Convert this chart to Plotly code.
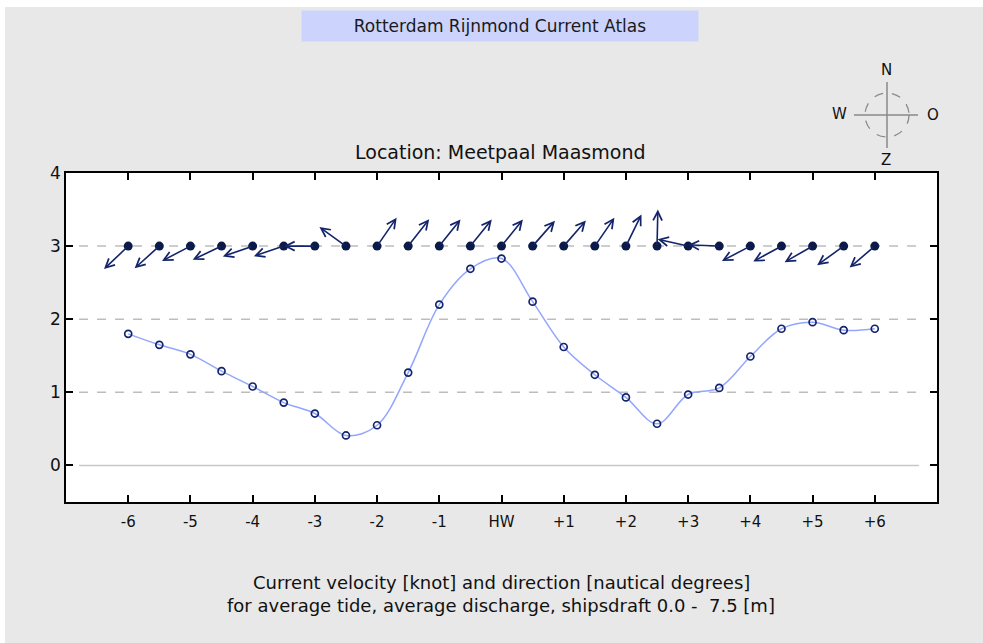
import math
import plotly.graph_objects as go

# ---- data ----
hours = [-6, -5.5, -5, -4.5, -4, -3.5, -3, -2.5, -2, -1.5, -1, -0.5, 0,
         0.5, 1, 1.5, 2, 2.5, 3, 3.5, 4, 4.5, 5, 5.5, 6]
speed_knots = [1.80, 1.65, 1.52, 1.29, 1.08, 0.86, 0.71, 0.41, 0.55, 1.27, 2.20, 2.69, 2.83,
               2.24, 1.62, 1.24, 0.93, 0.57, 0.97, 1.06, 1.49, 1.87, 1.96, 1.85, 1.87]
direction_deg = [231, 232.5, 246, 248, 253.5, 254, 270, 301.5, 39, 42.5, 43, 43.5, 43.5,
                 46, 45.5, 39, 30, 1.5, 281, 272, 246, 245, 244, 238.5, 234]
tick_vals = [-6, -5, -4, -3, -2, -1, 0, 1, 2, 3, 4, 5, 6]
tick_text = ['-6', '-5', '-4', '-3', '-2', '-1', 'HW', '+1', '+2', '+3', '+4', '+5', '+6']
y_ticks = [0, 1, 2, 3, 4]
arrow_base = 3
arrow_len = 0.5

FONT = "DejaVu Sans, Verdana, sans-serif"
NAVY = "#14246a"
DOT = "#0c1a48"
LINE_BLUE = "#93a6ff"
BG = "#e8e8e8"

W, H = 983, 643
L_PX, R_PX, T_PX, B_PX = 66, 937, 173, 502
PW, PH = R_PX - L_PX, B_PX - T_PX


def px(xp):
    return (xp - L_PX) / PW


def py(yp):
    return (B_PX - yp) / PH


fig = go.Figure()

# speed curve
fig.add_trace(go.Scatter(x=hours, y=speed_knots, mode="lines",
                         line=dict(color=LINE_BLUE, width=1.5, shape="spline", smoothing=1.0),
                         hoverinfo="skip", showlegend=False))
fig.add_trace(go.Scatter(x=hours, y=speed_knots, mode="markers",
                         marker=dict(symbol="circle-open", size=7, color=NAVY,
                                     line=dict(width=1.7, color=NAVY)),
                         showlegend=False))

annotations = []
# direction arrows
for h, d in zip(hours, direction_deg):
    r = math.radians(d)
    tx = h + arrow_len * math.sin(r)
    ty = arrow_base + arrow_len * math.cos(r)
    annotations.append(dict(x=tx, y=ty, ax=h, ay=arrow_base, xref="x", yref="y",
                            axref="x", ayref="y", showarrow=True, arrowhead=5,
                            arrowsize=1.1, arrowwidth=1.6, arrowcolor=NAVY, text=""))

# dots at arrow base
fig.add_trace(go.Scatter(x=hours, y=[arrow_base] * len(hours), mode="markers",
                         marker=dict(symbol="circle", size=9, color=DOT),
                         showlegend=False))

shapes = []
# white strips on the top and left edges
shapes.append(dict(type="rect", xref="paper", yref="paper", x0=px(0), x1=px(W),
                   y0=py(7), y1=py(0), fillcolor="white", line=dict(width=0), layer="below"))
shapes.append(dict(type="rect", xref="paper", yref="paper", x0=px(0), x1=px(5),
                   y0=py(H), y1=py(0), fillcolor="white", line=dict(width=0), layer="below"))
# grid lines
for g in [1, 2, 3]:
    shapes.append(dict(type="line", xref="x", yref="y", x0=-6.79, x1=6.68, y0=g, y1=g,
                       line=dict(color="#bdbdbd", width=1.5, dash="dash"), layer="below"))
shapes.append(dict(type="line", xref="x", yref="y", x0=-6.79, x1=6.71, y0=0, y1=0,
                   line=dict(color="#c8c8c8", width=1.5), layer="below"))

# compass
cx, cy, cr = 887, 115, 22
shapes.append(dict(type="circle", xref="paper", yref="paper",
                   x0=px(cx - cr), x1=px(cx + cr), y0=py(cy + cr), y1=py(cy - cr),
                   line=dict(color="#8a8a8a", width=1.3, dash="dash")))
shapes.append(dict(type="line", xref="paper", yref="paper", x0=px(854), x1=px(918),
                   y0=py(cy), y1=py(cy), line=dict(color="#8a8a8a", width=1.5)))
shapes.append(dict(type="line", xref="paper", yref="paper", x0=px(cx), x1=px(cx),
                   y0=py(148), y1=py(82), line=dict(color="#8a8a8a", width=1.5)))
for lab, lx, ly in [("N", 886, 70), ("W", 839, 114), ("O", 933, 115), ("Z", 886, 160)]:
    annotations.append(dict(text=lab, x=px(lx), y=py(ly), xref="paper", yref="paper",
                            showarrow=False, xanchor="center", yanchor="middle",
                            font=dict(family=FONT, size=15, color="#111")))

# title box
annotations.append(dict(text="Rotterdam Rijnmond Current Atlas", x=px(500), y=py(26),
                        xref="paper", yref="paper", showarrow=False, xanchor="center",
                        yanchor="middle", width=394, height=28, bgcolor="#ccd3fd",
                        font=dict(family=FONT, size=17, color="#1a1a1a")))
annotations.append(dict(text="Location: Meetpaal Maasmond", x=px(500), y=py(152),
                        xref="paper", yref="paper", showarrow=False, xanchor="center",
                        yanchor="middle", font=dict(family=FONT, size=19, color="#111")))
annotations.append(dict(text="Current velocity [knot] and direction [nautical degrees]",
                        x=px(501), y=py(582), xref="paper", yref="paper", showarrow=False,
                        xanchor="center", yanchor="middle",
                        font=dict(family=FONT, size=18, color="#111")))
annotations.append(dict(text="for average tide, average discharge, shipsdraft 0.0 -  7.5 [m]",
                        x=px(501), y=py(605), xref="paper", yref="paper", showarrow=False,
                        xanchor="center", yanchor="middle",
                        font=dict(family=FONT, size=18, color="#111")))

fig.update_layout(
    width=W, height=H,
    margin=dict(l=L_PX, r=W - R_PX, t=T_PX, b=H - B_PX, pad=0),
    paper_bgcolor=BG, plot_bgcolor="white",
    shapes=shapes, annotations=annotations,
    showlegend=False,
    font=dict(family=FONT, size=15, color="#111"),
)
fig.update_xaxes(range=[-7, 7], tickvals=tick_vals, ticktext=tick_text,
                 showline=True, linecolor="black", linewidth=1.5, mirror="ticks",
                 ticks="inside", ticklen=7, tickwidth=1.5, tickcolor="black",
                 showgrid=False, zeroline=False, ticklabelstandoff=5,
                 tickfont=dict(family=FONT, size=15, color="#111"))
fig.update_yaxes(range=[-0.5, 4], tickvals=y_ticks,
                 showline=True, linecolor="black", linewidth=1.5, mirror="ticks",
                 ticks="inside", ticklen=7, tickwidth=1.5, tickcolor="black",
                 showgrid=False, zeroline=False, ticklabelstandoff=0,
                 tickfont=dict(family=FONT, size=17, color="#111"))

fig.write_html("out.html", config={"displayModeBar": False},
               post_script="document.body.style.margin='0';")
